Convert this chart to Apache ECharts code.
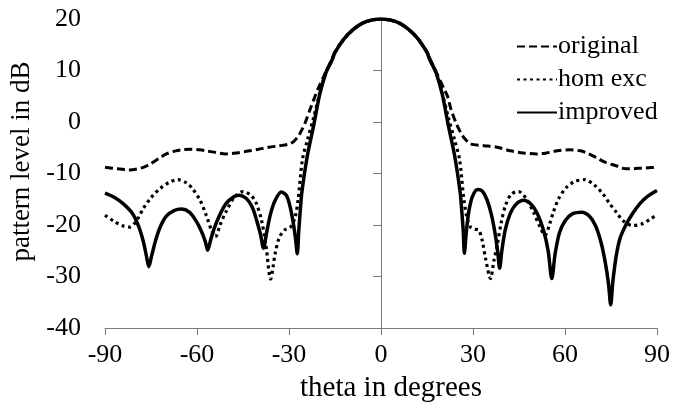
<!DOCTYPE html>
<html>
<head>
<meta charset="utf-8">
<script src="https://cdn.jsdelivr.net/npm/echarts@6/dist/echarts.min.js"></script>
<style>html,body{margin:0;padding:0;background:#fff}#c{width:673px;height:408px}</style>
</head>
<body>
<div id="c"></div>
<script>
// ---- data ----
var xTicks = [-90, -60, -30, 0, 30, 60, 90];
var yTicks = [-40, -30, -20, -10, 0, 10, 20];
var seriesNames = ['original', 'hom exc', 'improved'];

var originalTheta = [-90,-86,-82,-78,-75.4,-72.5,-70,-67,-64.5,-61.9,-59,-57,-54,-50.6,-47,-44,-40,-36.6,-33,-30.1,-28.5,-26.9,-25.8,-24.7,-23.1,-21.5,-20.5,-18,-16,-15,-12,-9,-6,-3,0,3,6,9,12,15,16,18,20.5,21.7,22.8,24.4,25.5,26.5,28,29.2,33.6,37.9,42.2,46.5,50.8,54,57.5,61.6,65,67.5,70.2,73,76.7,79,81,84,87,90];
var originalDb = [-8.8,-9.1,-9.3,-8.9,-8.2,-7.1,-6.2,-5.6,-5.35,-5.3,-5.4,-5.6,-5.9,-6.2,-6.0,-5.7,-5.3,-4.9,-4.6,-4.3,-3.8,-2.7,-1.5,-0.1,2.5,5.0,6.5,9.7,12.2,13.6,16.2,18,19.2,19.8,20,19.8,19.2,18,16.2,13.6,12.2,9.7,6.5,5.0,2.5,-0.1,-1.5,-2.6,-3.7,-4.3,-4.6,-4.9,-5.6,-6.0,-6.2,-6.0,-5.6,-5.4,-5.6,-6.1,-6.9,-7.8,-8.5,-9.0,-9.1,-9.0,-8.9,-8.8];

var homTheta = [-90,-87,-84,-82,-80.5,-79,-77.6,-75,-72,-69,-66.2,-63.5,-61.4,-59,-57,-55.3,-54,-52.5,-50.6,-48,-45,-42.5,-40.8,-39,-37.5,-36,-34.5,-33.2,-31.5,-29.5,-28,-27,-25.6,-24,-22,-20,-18,-16,-15,-12,-9,-6,-3,0,3,6,9,12,15,16,18,20,22,24,25.6,27,28,29.2,30.5,31.9,33,34.1,35.7,36.8,37.9,39.2,40.6,42.5,44.9,47.5,49.7,51.8,53.5,55,56.2,58,60.5,63,66.4,69.5,72.4,74.5,76.7,79,82.1,85,88,90];
var homDb = [-18.1,-19.3,-20.2,-20.4,-19.8,-18.5,-16.9,-14.7,-12.9,-11.7,-11.2,-11.8,-13,-15.2,-18.1,-21,-22.3,-20,-17.5,-14.8,-13.5,-14.2,-15.6,-19,-24,-30.5,-25.5,-22.5,-21,-20.4,-18.5,-14.9,-7.2,-3.5,0.8,5.5,9.6,12,13.5,16.2,18,19.2,19.8,20,19.8,19.2,18,16.2,13.5,12,9.6,5.5,0.8,-3.5,-7.2,-14.9,-18.5,-20.4,-20.8,-21,-23,-26.5,-30.4,-27,-23.9,-19.5,-16.2,-14,-13.5,-15,-17.5,-20.3,-22,-19.8,-17.5,-14.8,-12.7,-11.6,-11.2,-12.2,-14,-15.8,-17.5,-19.2,-20.1,-19.8,-18.8,-18];

var improvedTheta = [-90,-87,-84,-81,-79,-77.5,-76.5,-75.7,-74.8,-73.5,-72,-70,-67.5,-65,-62.5,-60.3,-58.5,-57.3,-56.5,-55.6,-54.3,-52.7,-50.5,-48,-46.2,-44,-42,-40.5,-39.3,-38.3,-37.3,-36,-34.5,-32.5,-30.8,-29.5,-28.5,-27.8,-27.3,-26.8,-26.3,-25.8,-24,-22,-20,-18,-16,-15,-12,-9,-6,-3,0,3,6,9,12,15,16,18,20,22,24,25.8,26.3,26.8,27.2,27.8,28.6,29.8,31.5,33,34.5,36,37.3,38.1,38.7,39.4,40.5,42,44,46.5,49,51,53,54.5,55.7,56.8,58.2,60,62.5,65.5,68,70,71.8,73.2,74.2,74.9,75.6,76.7,78,80,82,84.5,87,90];
var improvedDb = [-13.8,-14.6,-15.9,-17.8,-20.3,-23.2,-26,-28.1,-26,-23,-20.4,-18.3,-17.2,-16.9,-17.5,-19.2,-21.3,-23.2,-24.9,-23,-20.5,-18.2,-15.8,-14.5,-14.2,-14.8,-16.5,-19.2,-21.8,-24.5,-21.5,-17.8,-15.2,-13.6,-14.3,-16.8,-20,-23,-25.6,-21,-17,-13.6,-6.5,-0.8,5.3,9.5,12,13.5,16.2,18,19.2,19.8,20,19.8,19.2,18,16.2,13.5,12,9.5,5.3,-0.8,-6.5,-13.6,-17,-21,-25.5,-21.5,-17.5,-14.5,-13.1,-13.4,-15,-18,-22,-25.5,-28.4,-25,-21,-18,-16,-15.2,-16,-17.8,-21,-25,-30.4,-25.5,-21.5,-19.2,-17.8,-17.5,-18.3,-20.2,-23.5,-27.5,-31.5,-35.5,-31,-26,-22.5,-19.8,-17.8,-15.8,-14.4,-13.3];

function zip(a, b) { return a.map(function (v, i) { return [v, b[i]]; }); }

var FONT = 'Liberation Serif';
var chart = echarts.init(document.getElementById('c'), null, {renderer: 'canvas'});
chart.setOption({
  animation: false,
  backgroundColor: '#ffffff',
  grid: {left: 105, right: 12, top: 19, bottom: 78, containLabel: false},
  legend: {
    orient: 'vertical', left: 511, top: 28,
    itemWidth: 40, itemHeight: 14, itemGap: 6,
    itemStyle: {opacity: 0},
    textStyle: {fontFamily: FONT, fontSize: 26, color: '#000', lineHeight: 27, padding: [0, 0, 0, -4]},
    data: seriesNames
  },
  xAxis: {
    type: 'value', min: xTicks[0], max: xTicks[xTicks.length - 1], interval: 30,
    name: 'theta in degrees', nameLocation: 'middle', nameGap: 46,
    nameTextStyle: {fontFamily: FONT, fontSize: 29, color: '#000', padding: [0, 0, 0, 20]},
    axisLine: {onZero: false, lineStyle: {color: '#7a7a7a', width: 1}},
    axisTick: {show: true, inside: false, length: 7, lineStyle: {color: '#7a7a7a'}},
    axisLabel: {fontFamily: FONT, fontSize: 26, color: '#000', margin: 14},
    splitLine: {show: false}
  },
  yAxis: {
    type: 'value', min: yTicks[0], max: yTicks[yTicks.length - 1], interval: 10,
    name: 'pattern level in dB', nameLocation: 'middle', nameGap: 62, nameRotate: 90,
    nameTextStyle: {fontFamily: FONT, fontSize: 27, color: '#000', padding: [0, 0, 0, 24]},
    axisLine: {show: true, lineStyle: {color: '#7a7a7a', width: 1}},
    axisTick: {show: true, inside: false, length: 8, lineStyle: {color: '#7a7a7a'}},
    axisLabel: {fontFamily: FONT, fontSize: 26, color: '#000', margin: 24},
    splitLine: {show: false}
  },
  series: [
    {name: seriesNames[0], type: 'line', data: zip(originalTheta, originalDb), showSymbol: false, symbol: 'none', smooth: 0.3,
     lineStyle: {color: '#000', width: 3, type: [8, 4]}, itemStyle: {color: '#000'}},
    {name: seriesNames[1], type: 'line', data: zip(homTheta, homDb), showSymbol: false, symbol: 'none', smooth: 0.3,
     lineStyle: {color: '#000', width: 3.2, type: [3, 3.5]}, itemStyle: {color: '#000'}},
    {name: seriesNames[2], type: 'line', data: zip(improvedTheta, improvedDb), showSymbol: false, symbol: 'none', smooth: 0.3,
     lineStyle: {color: '#000', width: 3.5, type: 'solid'}, itemStyle: {color: '#000'}}
  ]
});
</script>
</body>
</html>
